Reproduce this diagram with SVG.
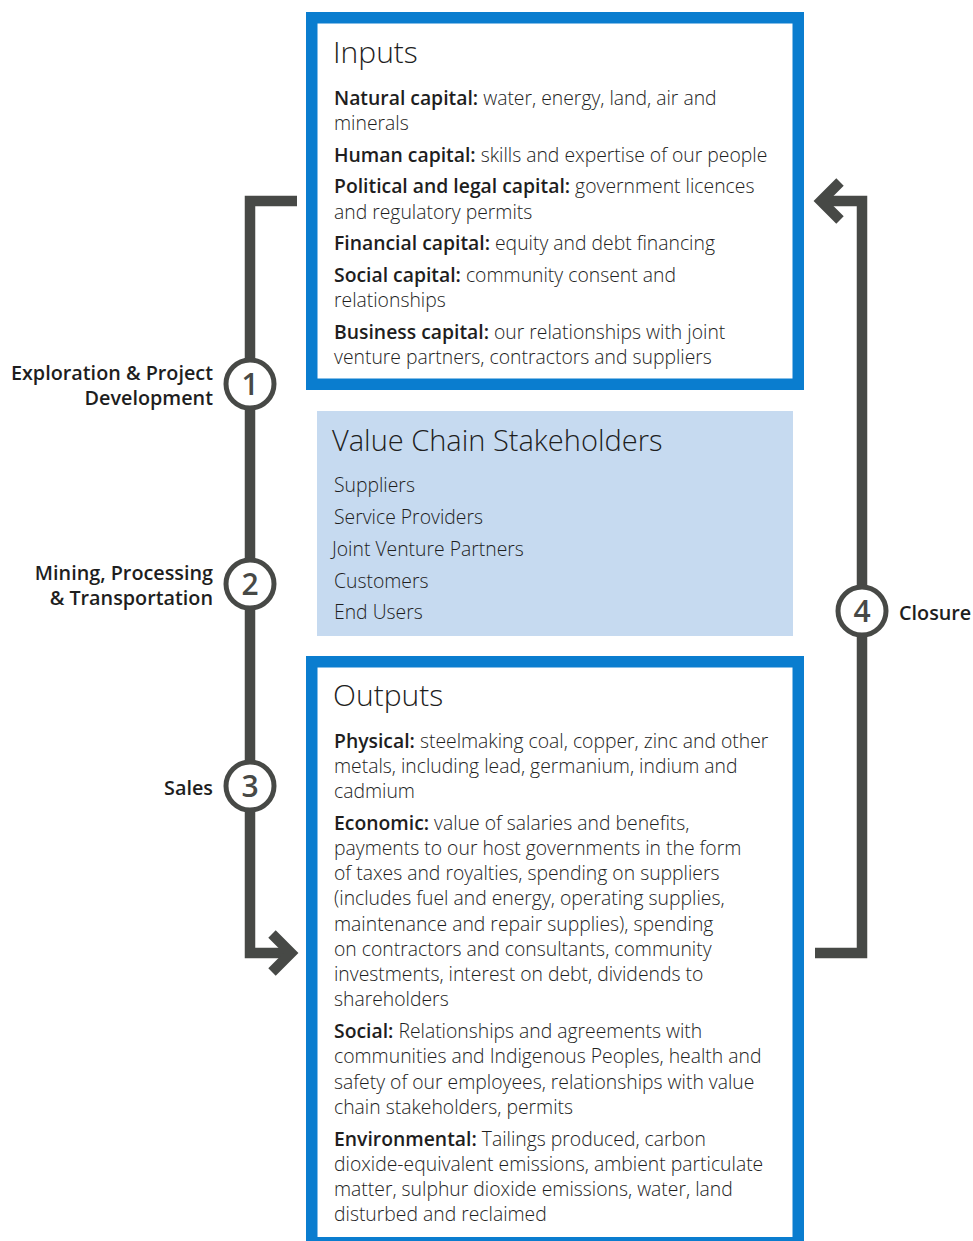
<svg xmlns="http://www.w3.org/2000/svg" width="973" height="1241" viewBox="0 0 973 1241">
<style>
text{font-family:"Open Sans","Noto Sans","Liberation Sans",sans-serif;fill:#1e1e1e;}
.t{font-size:29px;font-weight:300;}
.b{font-size:19.35px;font-weight:300;}
.b tspan.k{font-weight:600;}
.lab{font-size:19.8px;font-weight:600;fill:#1e1e1e;}
.num{font-size:30px;font-weight:600;fill:#474946;text-anchor:middle;}
.box{fill:#fff;stroke:#0a7dcf;stroke-width:11.5;}
.ln{fill:none;stroke:#474946;stroke-width:10.5;stroke-linejoin:miter;}
.circ{fill:#fff;stroke:#474946;stroke-width:5;}
</style>
<g id="connectors">
<polyline class="ln" points="297,201 250,201 250,953 290,953"/>
<polyline class="ln" points="272,934 291,953 272,972"/>
<polyline class="ln" points="815,953 862,953 862,201 822,201"/>
<polyline class="ln" points="840,182 821,201 840,220"/>
</g>
<g id="inputs">
<rect class="box" x="311.75" y="17.75" width="486.5" height="366.5"/>
<text class="t" x="333" y="63" style="font-size:30px">Inputs</text>
<text class="b" x="334" y="105"><tspan class="k">Natural capital:</tspan> water, energy, land, air and</text>
<text class="b" x="334" y="130">minerals</text>
<text class="b" x="334" y="162"><tspan class="k">Human capital:</tspan> skills and expertise of our people</text>
<text class="b" x="334" y="193"><tspan class="k">Political and legal capital:</tspan> government licences</text>
<text class="b" x="334" y="219">and regulatory permits</text>
<text class="b" x="334" y="250"><tspan class="k">Financial capital:</tspan> equity and debt financing</text>
<text class="b" x="334" y="282"><tspan class="k">Social capital:</tspan> community consent and</text>
<text class="b" x="334" y="307">relationships</text>
<text class="b" x="334" y="339"><tspan class="k">Business capital:</tspan> our relationships with joint</text>
<text class="b" x="334" y="364">venture partners, contractors and suppliers</text>
</g>
<g id="stakeholders">
<rect x="317" y="411" width="476" height="225" fill="#c6daf0"/>
<text class="t" x="332" y="451">Value Chain Stakeholders</text>
<text class="b" x="334" y="492">Suppliers</text>
<text class="b" x="334" y="524">Service Providers</text>
<text class="b" x="332" y="556">Joint Venture Partners</text>
<text class="b" x="334" y="588">Customers</text>
<text class="b" x="334" y="619">End Users</text>
</g>
<g id="outputs">
<rect class="box" x="311.75" y="661.75" width="486.5" height="581"/>
<text class="t" x="333" y="706" style="font-size:30px">Outputs</text>
<text class="b" x="334" y="748"><tspan class="k">Physical:</tspan> steelmaking coal, copper, zinc and other</text>
<text class="b" x="334" y="773">metals, including lead, germanium, indium and</text>
<text class="b" x="334" y="798">cadmium</text>
<text class="b" x="334" y="830"><tspan class="k">Economic:</tspan> value of salaries and benefits,</text>
<text class="b" x="334" y="855">payments to our host governments in the form</text>
<text class="b" x="334" y="880">of taxes and royalties, spending on suppliers</text>
<text class="b" x="334" y="905">(includes fuel and energy, operating supplies,</text>
<text class="b" x="334" y="931">maintenance and repair supplies), spending</text>
<text class="b" x="334" y="956">on contractors and consultants, community</text>
<text class="b" x="334" y="981">investments, interest on debt, dividends to</text>
<text class="b" x="334" y="1006">shareholders</text>
<text class="b" x="334" y="1038"><tspan class="k">Social:</tspan> Relationships and agreements with</text>
<text class="b" x="334" y="1063">communities and Indigenous Peoples, health and</text>
<text class="b" x="334" y="1089">safety of our employees, relationships with value</text>
<text class="b" x="334" y="1114">chain stakeholders, permits</text>
<text class="b" x="334" y="1146"><tspan class="k">Environmental:</tspan> Tailings produced, carbon</text>
<text class="b" x="334" y="1171">dioxide-equivalent emissions, ambient particulate</text>
<text class="b" x="334" y="1196">matter, sulphur dioxide emissions, water, land</text>
<text class="b" x="334" y="1221">disturbed and reclaimed</text>
</g>
<g id="stage1">
<circle class="circ" cx="250" cy="384" r="24"/>
<text class="num" x="250" y="395">1</text>
<text class="lab" text-anchor="end" x="213" y="380">Exploration &amp; Project</text>
<text class="lab" text-anchor="end" x="213" y="405">Development</text>
</g>
<g id="stage2">
<circle class="circ" cx="250" cy="584" r="24"/>
<text class="num" x="250" y="595">2</text>
<text class="lab" text-anchor="end" x="213" y="580">Mining, Processing</text>
<text class="lab" text-anchor="end" x="213" y="605">&amp; Transportation</text>
</g>
<g id="stage3">
<circle class="circ" cx="250" cy="786" r="24"/>
<text class="num" x="250" y="797">3</text>
<text class="lab" text-anchor="end" x="213" y="795">Sales</text>
</g>
<g id="stage4">
<circle class="circ" cx="862" cy="611" r="24"/>
<text class="num" x="862" y="622">4</text>
<text class="lab" x="899" y="620">Closure</text>
</g>
</svg>
